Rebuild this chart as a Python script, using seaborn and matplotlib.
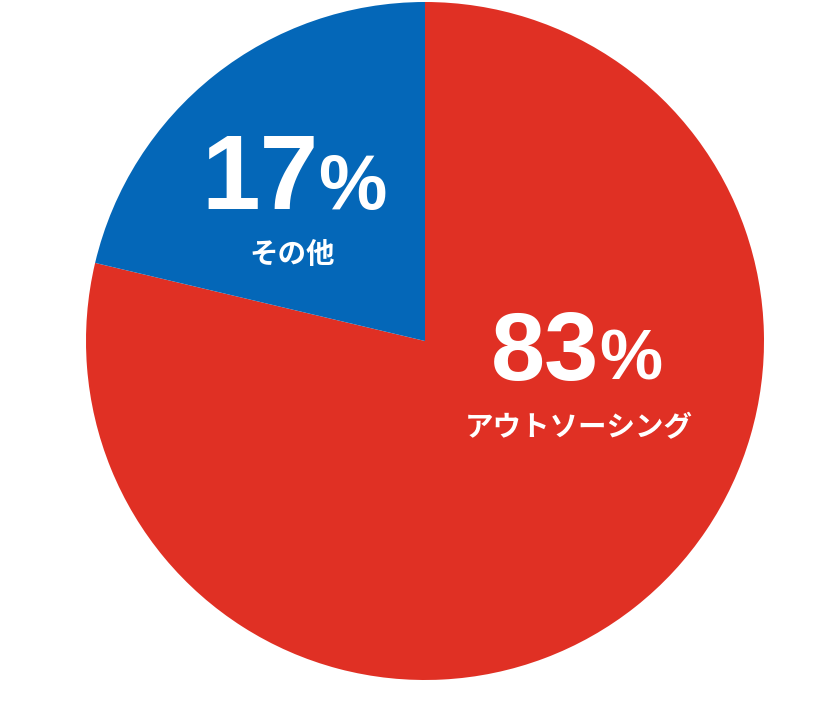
import seaborn as sns
import matplotlib.pyplot as plt

# data
categories = ['アウトソーシング', 'その他']
pct_labels = ['83', '17']
# slice sizes as drawn in the reference (the blue wedge spans about 77 degrees)
slice_shares = [78.7, 21.3]
colors = ['#E03024', '#0467B8']

sns.set_theme(style='white')
plt.rcParams['font.family'] = ['Noto Sans CJK JP', 'DejaVu Sans']

fig = plt.figure(figsize=(8.4, 7.02), dpi=100)
ax = fig.add_axes([86 / 840, 22 / 702, 678 / 840, 678 / 702])
ax.pie(slice_shares, colors=colors, startangle=90, counterclock=False,
       radius=1, wedgeprops=dict(linewidth=0))
ax.set_xlim(-1, 1)
ax.set_ylim(-1, 1)
ax.set_aspect('equal')
ax.axis('off')

# label positions in axes data units (1 unit = 339 px)
num_pos = [(0.515, -0.115), (-0.313, 0.39)]
num_size = [70, 76]
cat_pos = [(0.455, -0.257), (-0.393, 0.253)]

for i in range(len(categories)):
    x, y = num_pos[i]
    ax.text(x, y, pct_labels[i], ha='right', va='baseline', color='white',
            fontsize=num_size[i], fontweight='bold', family='Liberation Sans')
    ax.text(x - 0.002, y, '%', ha='left', va='baseline', color='white',
            fontsize=num_size[i] * 0.73, fontweight='bold', family='Liberation Sans')
    cx, cy = cat_pos[i]
    ax.text(cx, cy, categories[i], ha='center', va='center', color='white',
            fontsize=20.5, fontweight='bold')

fig.savefig('out.png', dpi=100, facecolor='white')
